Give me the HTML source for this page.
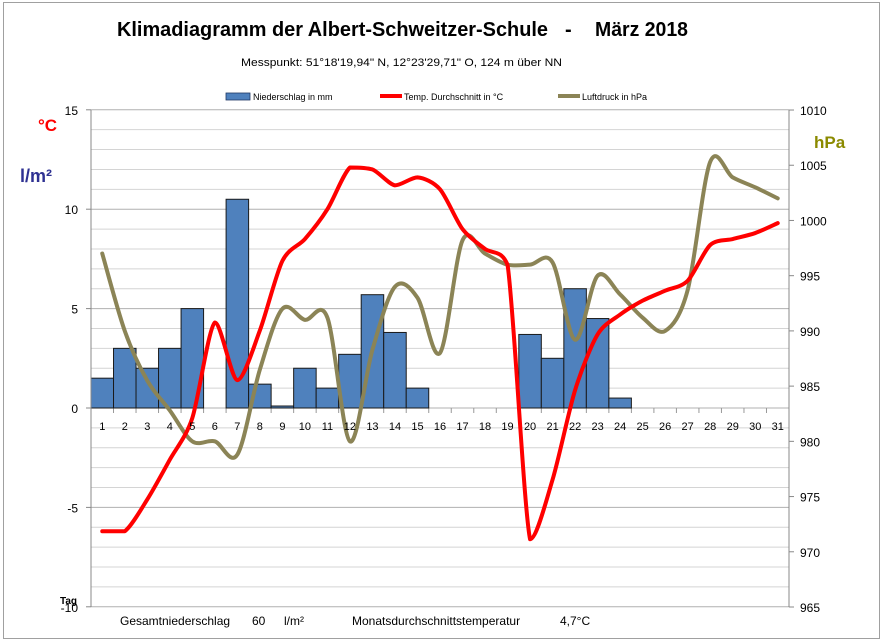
<!DOCTYPE html>
<html><head><meta charset="utf-8"><style>
body{margin:0;background:#fff;}
svg{display:block;font-family:"Liberation Sans",sans-serif;}
</style></head><body>
<svg id="s" width="883" height="643" xmlns="http://www.w3.org/2000/svg">
<rect x="0" y="0" width="883" height="643" fill="#fff"/>
<rect x="3.5" y="2.5" width="876" height="636" fill="none" stroke="#a0a0a0"/>
<g id="grid"></g>
<g id="bars"></g>
<line x1="91" y1="110" x2="91" y2="607" stroke="#888"/>
<line x1="789" y1="110" x2="789" y2="607" stroke="#888"/>
<path id="pres" fill="none" stroke="#8b8456" stroke-width="4" stroke-linejoin="round" stroke-linecap="round"/>
<path id="temp" fill="none" stroke="#ff0000" stroke-width="4" stroke-linejoin="round" stroke-linecap="round"/>
<g id="labels" font-size="12" fill="#000"></g>
<text x="117" y="36" font-size="20" font-weight="bold" textLength="431" lengthAdjust="spacingAndGlyphs">Klimadiagramm der Albert-Schweitzer-Schule</text>
<text x="565" y="36" font-size="20" font-weight="bold">-</text>
<text x="595" y="36" font-size="20" font-weight="bold" textLength="93" lengthAdjust="spacingAndGlyphs">März 2018</text>
<text x="241" y="66" font-size="11" textLength="321" lengthAdjust="spacingAndGlyphs">Messpunkt:  51°18'19,94" N,  12°23'29,71" O,  124 m über NN</text>
<rect x="226" y="93" width="24" height="7" fill="#4f81bd" stroke="#203864" stroke-width="0.8"/>
<text x="253" y="100" font-size="9">Niederschlag in mm</text>
<rect x="380" y="94" width="22" height="4" fill="#ff0000"/>
<text x="404" y="100" font-size="9">Temp. Durchschnitt in °C</text>
<rect x="558" y="94" width="22" height="4" fill="#8b8456"/>
<text x="582" y="100" font-size="9">Luftdruck in hPa</text>
<text x="38" y="131" font-size="17" font-weight="bold" fill="#ff0000">°C</text>
<text x="20" y="182" font-size="18" font-weight="bold" fill="#2e3192">l/m²</text>
<text x="814" y="148" font-size="17" font-weight="bold" fill="#8b8a00">hPa</text>
<text x="60" y="604" font-size="10" font-weight="bold">Tag</text>
<text x="120" y="625" font-size="12">Gesamtniederschlag</text>
<text x="252" y="625" font-size="12">60</text>
<text x="284" y="625" font-size="12">l/m²</text>
<text x="352" y="625" font-size="12">Monatsdurchschnittstemperatur</text>
<text x="560" y="625" font-size="12">4,7°C</text>
</svg>
<script>
var NS="http://www.w3.org/2000/svg";
function el(p,t,a,txt){var e=document.createElementNS(NS,t);for(var k in a)e.setAttribute(k,a[k]);if(txt!==undefined)e.textContent=txt;document.getElementById(p).appendChild(e);return e;}
var x0=91,x1=789,cw=(x1-x0)/31;
function yT(v){return 408-v*19.88;}
function yP(v){return 607-(v-965)*11.044;}
for(var v=-10;v<=15;v++){var y=yT(v);el("grid","line",{x1:x0,x2:x1,y1:y,y2:y,stroke:(v%5==0?"#b0b0b0":"#d4d4d4"),"stroke-width":1});}
for(var v=-10;v<=15;v+=5){var y=yT(v);el("labels","text",{x:78,y:y+5,"text-anchor":"end","font-size":12},String(v));el("grid","line",{x1:86,x2:91,y1:y,y2:y,stroke:"#888"});}
for(var p=965;p<=1010;p+=5){var y=yP(p);el("labels","text",{x:800,y:y+5,"font-size":12},String(p));el("grid","line",{x1:789,x2:794,y1:y,y2:y,stroke:"#888"});}
for(var i=0;i<=31;i++){var x=x0+i*cw;el("grid","line",{x1:x,x2:x,y1:408,y2:413,stroke:"#999"});}
for(var i=1;i<=31;i++){el("labels","text",{x:x0+(i-0.5)*cw,y:430,"text-anchor":"middle","font-size":11},String(i));}
var bars=[1.5,3,2,3,5,0,10.5,1.2,0.1,2,1,2.7,5.7,3.8,1,0,0,0,0,3.7,2.5,6,4.5,0.5];
bars.forEach(function(b,i){if(b>0){var y=yT(b);el("bars","rect",{x:x0+i*cw,y:y,width:cw,height:408-y,fill:"#4f81bd",stroke:"#1a1a1a","stroke-width":1});}});
var T=[-6.2,-6.2,-4.6,-2.6,-0.5,4.3,1.4,3.9,7.4,8.5,10,12.1,12,11.2,11.6,11,9,8,7.2,-6.6,-3.6,0.9,3.7,4.7,5.4,5.9,6.4,8.2,8.5,8.8,9.3];
var P=[997,990,985.5,982.8,980,980,978.8,986.5,992,991,991.2,980,988.3,994,993,988,998.2,997,996,996,996.2,989.2,995,993.3,991.2,990,993.7,1005.3,1003.9,1003,1002];
function path(vals,f,tt,clamp){var pts=vals.map(function(v,i){return [x0+(i+0.5)*cw,f(v)];});var d="M"+pts[0][0]+","+pts[0][1];
for(var i=0;i<pts.length-1;i++){var p0=pts[Math.max(0,i-1)],p1=pts[i],p2=pts[i+1],p3=pts[Math.min(pts.length-1,i+2)];var t=tt;
var c1=[p1[0]+(p2[0]-p0[0])*t,p1[1]+(p2[1]-p0[1])*t],c2=[p2[0]-(p3[0]-p1[0])*t,p2[1]-(p3[1]-p1[1])*t];
if(clamp){var lo=Math.min(p1[1],p2[1]),hi=Math.max(p1[1],p2[1]);c1[1]=Math.max(lo,Math.min(hi,c1[1]));c2[1]=Math.max(lo,Math.min(hi,c2[1]));}
d+=" C"+c1.join(",")+" "+c2.join(",")+" "+p2.join(",");}return d;}
document.getElementById("temp").setAttribute("d",path(T,yT,0.14,true));
document.getElementById("pres").setAttribute("d",path(P,yP,0.16,false));
</script>
</body></html>
